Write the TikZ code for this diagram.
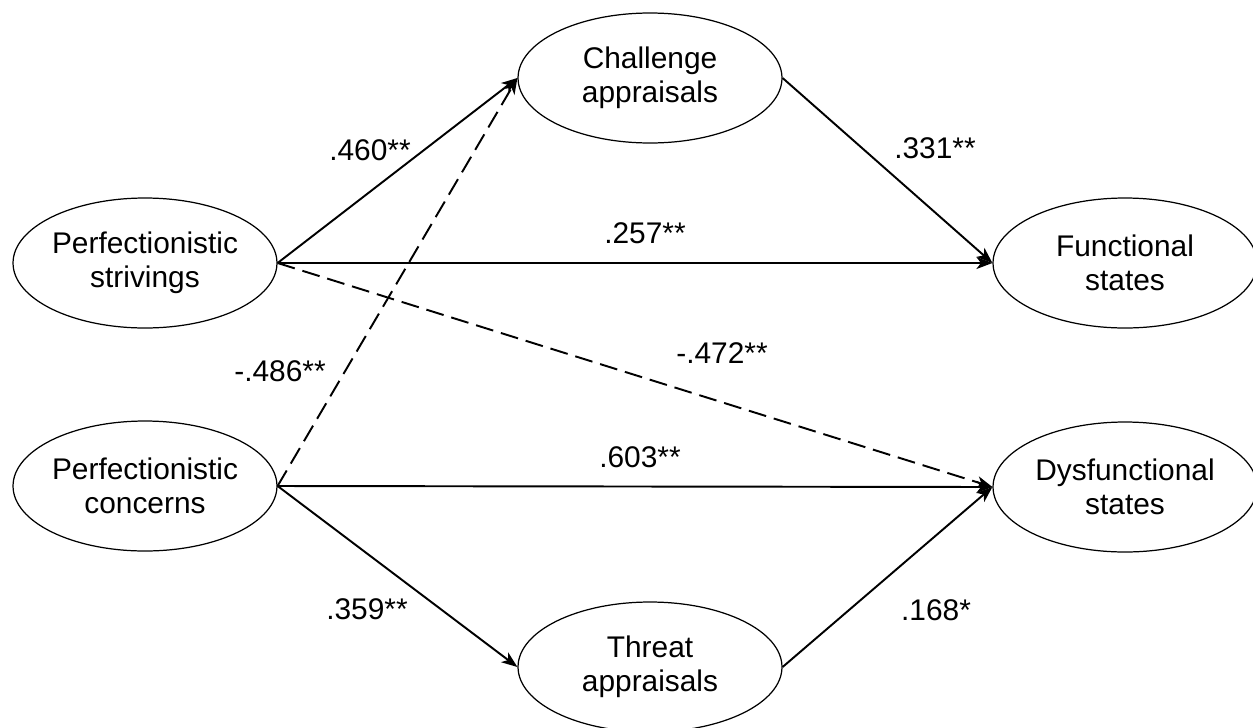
\documentclass[tikz,border=0pt]{standalone}
\usepackage{fontspec}
\setmainfont{Liberation Sans}
\usetikzlibrary{arrows.meta,shapes.geometric}

\begin{document}
\begin{tikzpicture}[x=0.02cm, y=-0.02cm,
    latent/.style={ellipse, draw, line width=0.7pt, minimum width=5.28cm, minimum height=2.6cm, inner sep=0pt, align=center, font=\fontsize{17}{19.5}\selectfont},
    coef/.style={font=\fontsize{17}{19.5}\selectfont, inner sep=0pt},
    path/.style={line width=1.1pt, -{Stealth[length=0.32cm, width=0.24cm, inset=0.09cm]}},
    neg/.style={path, dash pattern=on 0.36cm off 0.16cm}]
\useasboundingbox (0,0) rectangle (1253,727);
% latent variables
\node[latent] (ps) at (145,263) {Perfectionistic\\strivings};
\node[latent] (pc) at (145,486) {Perfectionistic\\concerns};
\node[latent] (ca) at (650,78) {Challenge\\appraisals};
\node[latent] (ta) at (650,667) {Threat\\appraisals};
\node[latent] (fs) at (1125,263) {Functional\\states};
\node[latent] (ds) at (1125,487) {Dysfunctional\\states};
% paths
\draw[path] (ps.east) -- (ca.west);
\draw[path] (ps.east) -- (fs.west);
\draw[neg] (ps.east) -- (ds.west);
\draw[neg] (pc.east) -- (ca.west);
\draw[path] (pc.east) -- (ds.west);
\draw[path] (pc.east) -- (ta.west);
\draw[path] (ca.east) -- (fs.west);
\draw[path] (ta.east) -- (ds.west);
% coefficients
\node[coef] (c1) at (370,150) {.460**};
\node[coef] (c2) at (645,233) {.257**};
\node[coef] (c3) at (935,148) {.331**};
\node[coef] (c4) at (722,353) {-.472**};
\node[coef] (c5) at (280,371) {-.486**};
\node[coef] (c6) at (640,457) {.603**};
\node[coef] (c7) at (367,609) {.359**};
\node[coef] (c8) at (936,610) {.168*};
\end{tikzpicture}
\end{document}
